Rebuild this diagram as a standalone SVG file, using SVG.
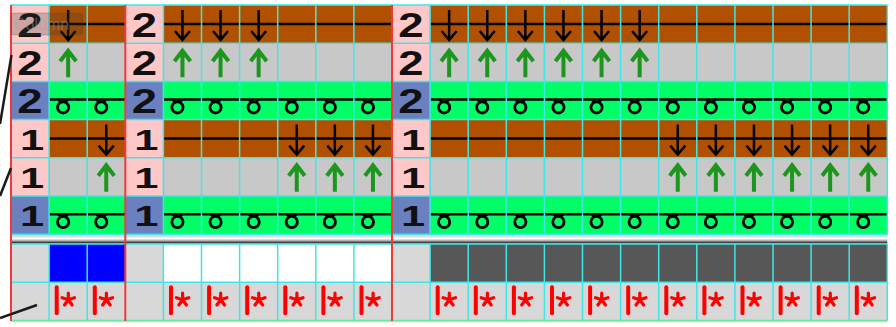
<svg xmlns="http://www.w3.org/2000/svg" xmlns:xlink="http://www.w3.org/1999/xlink" width="896" height="327" viewBox="0 0 896 327">
<style>
.br{fill:#b05000}.gy{fill:#c8c8c8}.gn{fill:#00ff66}.pk{fill:#ffc8c8}.bl{fill:#6a80bf}.lg{fill:#d8d8d8}
.hl{stroke:#000;stroke-width:2.5;fill:none}
.dn{stroke:#000;stroke-width:2.5;fill:none}
.up{stroke:#1c961c;stroke-width:4;fill:none}
.lp{stroke:#000;stroke-width:2.8;fill:none}
.cy{stroke:#40e6e6;stroke-width:1.5;fill:none}
.rd{stroke:#f03a3a;stroke-width:2;fill:none}
.st{stroke:#ff0000;fill:none;stroke-linecap:round}
.n2{font-family:"Liberation Sans",Arial,sans-serif;font-size:35px;font-weight:bold;fill:#111}
.n1{font-family:"Liberation Sans",Arial,sans-serif;font-size:29px;font-weight:bold;fill:#111}
.dg{stroke:#1a1a1a;stroke-width:2.5}
</style>
<defs>
<path id="dn" class="dn" d="M0,5V35M-7.5,26L0,35L7.5,26"/>
<path id="up" class="up" d="M0,34V9M-8,18L0,7.5L8,18"/>
<g id="lp"><path class="lp" d="M-9.5,18.2L-7.5,20.5M-2.5,20.5L-0.5,18.2"/><circle class="lp" cx="-5" cy="26" r="5.6"/></g>
<g id="st">
<line class="st" x1="7.6" y1="5" x2="7.6" y2="31" stroke-width="4"/>
<path class="st" stroke-width="3.2" d="M19.2,17.5V11M19.2,17.5L25.4,15.5M19.2,17.5L23,22.8M19.2,17.5L15.4,22.8M19.2,17.5L13,15.5"/>
</g>
<linearGradient id="sep" x1="0" y1="0" x2="0" y2="1">
<stop offset="0" stop-color="#c8c8c8"/>
<stop offset="0.25" stop-color="#dedede"/>
<stop offset="0.45" stop-color="#ffffff"/>
<stop offset="0.65" stop-color="#b0b0b0"/>
<stop offset="0.85" stop-color="#404040"/>
<stop offset="1" stop-color="#9a9a9a"/>
</linearGradient>
</defs>
<rect width="896" height="327" fill="#fff"/>

<g id="rows">
<rect class="br" x="11" y="5" width="876.3" height="38.2"/>
<rect class="gy" x="11" y="43.2" width="876.3" height="38.2"/>
<rect class="gn" x="11" y="81.4" width="876.3" height="38.2"/>
<rect class="br" x="11" y="119.6" width="876.3" height="38.2"/>
<rect class="gy" x="11" y="157.8" width="876.3" height="38.2"/>
<rect class="gn" x="11" y="196" width="876.3" height="38.2"/>
<rect x="11" y="234.2" width="876.3" height="9.8" fill="url(#sep)"/>
<rect class="lg" x="11" y="244" width="876.3" height="76.4"/>
<rect x="49.1" y="244" width="76.2" height="38.2" fill="#0000ff"/>
<rect x="163.4" y="244" width="228.6" height="38.2" fill="#ffffff"/>
<rect x="430.1" y="244" width="457.2" height="38.2" fill="#575757"/>
</g>

<g id="labels">
<rect class="pk" x="11" y="5" width="38.1" height="38.2"/><rect class="pk" x="125.3" y="5" width="38.1" height="38.2"/><rect class="pk" x="392" y="5" width="38.1" height="38.2"/>
<rect class="pk" x="11" y="43.2" width="38.1" height="38.2"/><rect class="pk" x="125.3" y="43.2" width="38.1" height="38.2"/><rect class="pk" x="392" y="43.2" width="38.1" height="38.2"/>
<rect class="bl" x="11" y="81.4" width="38.1" height="38.2"/><rect class="bl" x="125.3" y="81.4" width="38.1" height="38.2"/><rect class="bl" x="392" y="81.4" width="38.1" height="38.2"/>
<rect class="pk" x="11" y="119.6" width="38.1" height="38.2"/><rect class="pk" x="125.3" y="119.6" width="38.1" height="38.2"/><rect class="pk" x="392" y="119.6" width="38.1" height="38.2"/>
<rect class="pk" x="11" y="157.8" width="38.1" height="38.2"/><rect class="pk" x="125.3" y="157.8" width="38.1" height="38.2"/><rect class="pk" x="392" y="157.8" width="38.1" height="38.2"/>
<rect class="bl" x="11" y="196" width="38.1" height="38.2"/><rect class="bl" x="125.3" y="196" width="38.1" height="38.2"/><rect class="bl" x="392" y="196" width="38.1" height="38.2"/>
</g>

<g id="numerals">
<text class="n2" text-anchor="middle" transform="translate(30,37) scale(1.3,1)">2</text>
<text class="n2" text-anchor="middle" transform="translate(144.3,37) scale(1.3,1)">2</text>
<text class="n2" text-anchor="middle" transform="translate(411,37) scale(1.3,1)">2</text>
<text class="n2" text-anchor="middle" transform="translate(30,75.2) scale(1.3,1)">2</text>
<text class="n2" text-anchor="middle" transform="translate(144.3,75.2) scale(1.3,1)">2</text>
<text class="n2" text-anchor="middle" transform="translate(411,75.2) scale(1.3,1)">2</text>
<text class="n2" text-anchor="middle" transform="translate(30,113.4) scale(1.3,1)">2</text>
<text class="n2" text-anchor="middle" transform="translate(144.3,113.4) scale(1.3,1)">2</text>
<text class="n2" text-anchor="middle" transform="translate(411,113.4) scale(1.3,1)">2</text>
<text class="n1" text-anchor="middle" transform="translate(32,149.5) scale(1.5,1)">1</text>
<text class="n1" text-anchor="middle" transform="translate(146.3,149.5) scale(1.5,1)">1</text>
<text class="n1" text-anchor="middle" transform="translate(413,149.5) scale(1.5,1)">1</text>
<text class="n1" text-anchor="middle" transform="translate(32,187.7) scale(1.5,1)">1</text>
<text class="n1" text-anchor="middle" transform="translate(146.3,187.7) scale(1.5,1)">1</text>
<text class="n1" text-anchor="middle" transform="translate(413,187.7) scale(1.5,1)">1</text>
<text class="n1" text-anchor="middle" transform="translate(32,225.9) scale(1.5,1)">1</text>
<text class="n1" text-anchor="middle" transform="translate(146.3,225.9) scale(1.5,1)">1</text>
<text class="n1" text-anchor="middle" transform="translate(413,225.9) scale(1.5,1)">1</text>
</g>

<g id="yarnlines">
<path class="hl" d="M49.1,24H125.3M163.4,24H392M430.1,24H887.3"/>
<path class="hl" d="M49.1,138.6H125.3M163.4,138.6H392M430.1,138.6H887.3"/>
<path class="hl" d="M49.1,99.6H125.3M163.4,99.6H392M430.1,99.6H887.3"/>
<path class="hl" d="M49.1,214.2H125.3M163.4,214.2H392M430.1,214.2H887.3"/>
</g>

<g id="loops">
<g transform="translate(0,81.4)">
<use href="#lp" x="68.15"/><use href="#lp" x="106.25"/><use href="#lp" x="182.45"/><use href="#lp" x="220.55"/><use href="#lp" x="258.65"/><use href="#lp" x="296.75"/><use href="#lp" x="334.85"/><use href="#lp" x="372.95"/>
<use href="#lp" x="449.15"/><use href="#lp" x="487.25"/><use href="#lp" x="525.35"/><use href="#lp" x="563.45"/><use href="#lp" x="601.55"/><use href="#lp" x="639.65"/><use href="#lp" x="677.75"/><use href="#lp" x="715.85"/><use href="#lp" x="753.95"/><use href="#lp" x="792.05"/><use href="#lp" x="830.15"/><use href="#lp" x="868.25"/>
</g>
<g transform="translate(0,196)">
<use href="#lp" x="68.15"/><use href="#lp" x="106.25"/><use href="#lp" x="182.45"/><use href="#lp" x="220.55"/><use href="#lp" x="258.65"/><use href="#lp" x="296.75"/><use href="#lp" x="334.85"/><use href="#lp" x="372.95"/>
<use href="#lp" x="449.15"/><use href="#lp" x="487.25"/><use href="#lp" x="525.35"/><use href="#lp" x="563.45"/><use href="#lp" x="601.55"/><use href="#lp" x="639.65"/><use href="#lp" x="677.75"/><use href="#lp" x="715.85"/><use href="#lp" x="753.95"/><use href="#lp" x="792.05"/><use href="#lp" x="830.15"/><use href="#lp" x="868.25"/>
</g>
</g>

<g id="arrows">
<g transform="translate(0,5)">
<use href="#dn" x="68.15"/><use href="#dn" x="182.45"/><use href="#dn" x="220.55"/><use href="#dn" x="258.65"/><use href="#dn" x="449.15"/><use href="#dn" x="487.25"/><use href="#dn" x="525.35"/><use href="#dn" x="563.45"/><use href="#dn" x="601.55"/><use href="#dn" x="639.65"/>
</g>
<g transform="translate(0,43.2)">
<use href="#up" x="68.15"/><use href="#up" x="182.45"/><use href="#up" x="220.55"/><use href="#up" x="258.65"/><use href="#up" x="449.15"/><use href="#up" x="487.25"/><use href="#up" x="525.35"/><use href="#up" x="563.45"/><use href="#up" x="601.55"/><use href="#up" x="639.65"/>
</g>
<g transform="translate(0,119.6)">
<use href="#dn" x="106.25"/><use href="#dn" x="296.75"/><use href="#dn" x="334.85"/><use href="#dn" x="372.95"/><use href="#dn" x="677.75"/><use href="#dn" x="715.85"/><use href="#dn" x="753.95"/><use href="#dn" x="792.05"/><use href="#dn" x="830.15"/><use href="#dn" x="868.25"/>
</g>
<g transform="translate(0,157.8)">
<use href="#up" x="106.25"/><use href="#up" x="296.75"/><use href="#up" x="334.85"/><use href="#up" x="372.95"/><use href="#up" x="677.75"/><use href="#up" x="715.85"/><use href="#up" x="753.95"/><use href="#up" x="792.05"/><use href="#up" x="830.15"/><use href="#up" x="868.25"/>
</g>
</g>

<g id="markers" transform="translate(0,282.2)">
<use href="#st" x="49.1"/><use href="#st" x="87.2"/><use href="#st" x="163.4"/><use href="#st" x="201.5"/><use href="#st" x="239.6"/><use href="#st" x="277.7"/><use href="#st" x="315.8"/><use href="#st" x="353.9"/>
<use href="#st" x="430.1"/><use href="#st" x="468.2"/><use href="#st" x="506.3"/><use href="#st" x="544.4"/><use href="#st" x="582.5"/><use href="#st" x="620.6"/><use href="#st" x="658.7"/><use href="#st" x="696.8"/><use href="#st" x="734.9"/><use href="#st" x="773"/><use href="#st" x="811.1"/><use href="#st" x="849.2"/>
</g>

<g id="grid">
<path class="cy" d="M11,5H887.3M11,43.2H887.3M11,81.4H887.3M11,119.6H887.3M11,157.8H887.3M11,196H887.3M11,234.2H887.3M11,244H887.3M11,282.2H887.3M11,320.4H887.3"/>
<path class="cy" d="M49.1,5V234.2M87.2,5V234.2M163.4,5V234.2M201.5,5V234.2M239.6,5V234.2M277.7,5V234.2M315.8,5V234.2M353.9,5V234.2M430.1,5V234.2M468.2,5V234.2M506.3,5V234.2M544.4,5V234.2M582.5,5V234.2M620.6,5V234.2M658.7,5V234.2M696.8,5V234.2M734.9,5V234.2M773,5V234.2M811.1,5V234.2M849.2,5V234.2M887.3,5V234.2"/>
<path class="cy" d="M49.1,244V320.4M87.2,244V320.4M163.4,244V320.4M201.5,244V320.4M239.6,244V320.4M277.7,244V320.4M315.8,244V320.4M353.9,244V320.4M430.1,244V320.4M468.2,244V320.4M506.3,244V320.4M544.4,244V320.4M582.5,244V320.4M620.6,244V320.4M658.7,244V320.4M696.8,244V320.4M734.9,244V320.4M773,244V320.4M811.1,244V320.4M849.2,244V320.4M887.3,244V320.4"/>
<line x1="11" y1="321.6" x2="887.3" y2="321.6" stroke="#e4e040" stroke-width="1.5"/>
<path class="rd" d="M11,5V321M125.3,5V321M392,5V321"/>
</g>

<g id="connectors">
<line class="dg" x1="11.5" y1="55" x2="0" y2="124"/>
<line class="dg" x1="11" y1="168" x2="0" y2="196"/>
<line class="dg" x1="37" y1="305" x2="0" y2="318"/>
</g>

<g id="tooltip">
<rect x="11" y="13" width="72" height="22" rx="3" fill="#3c3c3c" fill-opacity="0.25" stroke="#505050" stroke-opacity="0.3"/>
<text x="14" y="30" font-family="Liberation Sans, Arial, sans-serif" font-size="16" fill="#a0a0a0" fill-opacity="0.45">Column</text>
</g>
</svg>
